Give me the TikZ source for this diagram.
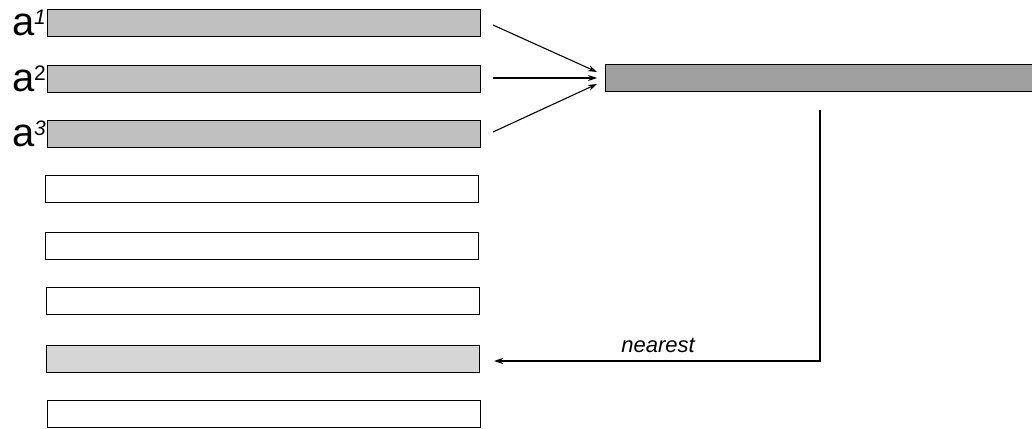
\documentclass[tikz,border=0pt]{standalone}
\usepackage{fontspec}
\setmainfont{Liberation Sans}
\usetikzlibrary{arrows.meta}
\definecolor{barmid}{HTML}{C0C0C0}
\definecolor{bardark}{HTML}{A0A0A0}
\definecolor{barlight}{HTML}{D6D6D6}
\newcommand{\vlab}[2]{a\kern-1pt\raisebox{11pt}{\fontsize{21}{21}\selectfont#1#2}}
\begin{document}
\begin{tikzpicture}[x=1pt,y=-1pt,
  bar/.style={draw=black,line width=1.4pt,inner sep=0pt,minimum width=433pt,minimum height=27pt,anchor=north west},
  link/.style={draw=black,line width=1.1pt,-{Stealth[length=9pt,width=6pt]}},
  lab/.style={font=\fontsize{40}{40}\selectfont,inner sep=0pt,anchor=base east}]
\useasboundingbox (0,0) rectangle (1032,428);
% query vectors
\node[bar,fill=barmid] (a1) at (47,9) {};
\node[bar,fill=barmid] (a2) at (47,65) {};
\node[bar,fill=barmid] (a3) at (47,120) {};
% remaining database rows
\node[bar,fill=white] (b1) at (45,175) {};
\node[bar,fill=white] (b2) at (45,232) {};
\node[bar,fill=white] (b3) at (46,287) {};
\node[bar,fill=barlight] (b4) at (46,345) {};
\node[bar,fill=white] (b5) at (47,400) {};
% combined vector
\node[draw=black,line width=1.4pt,fill=bardark,inner sep=0pt,minimum width=440pt,minimum height=27pt,anchor=north west] (c) at (605,64) {};
% labels
\node[lab] (l1) at (46,36) {\vlab{\itshape}{1}};
\node[lab] (l2) at (46,91) {\vlab{}{2}};
\node[lab] (l3) at (46,146) {\vlab{\itshape}{3}};
% arrows into the combined vector
\coordinate (s1) at (493,25);
\coordinate (s2) at (493,78);
\coordinate (s3) at (493,132);
\coordinate (t1) at (597,72);
\coordinate (t2) at (597,78);
\coordinate (t3) at (597,84);
\draw[link] (s1) -- (t1);
\draw[link] (s2) -- (t2);
\draw[link] (s3) -- (t3);
% nearest-neighbour lookup
\coordinate (d0) at (820,110);
\coordinate (d1) at (820,361);
\coordinate (d2) at (494,361);
\draw[link,line width=1.5pt] (d0) -- (d1) -- (d2);
\node[font=\fontsize{22}{22}\selectfont\itshape,anchor=base] (n) at (658,352) {nearest};
\end{tikzpicture}
\end{document}
